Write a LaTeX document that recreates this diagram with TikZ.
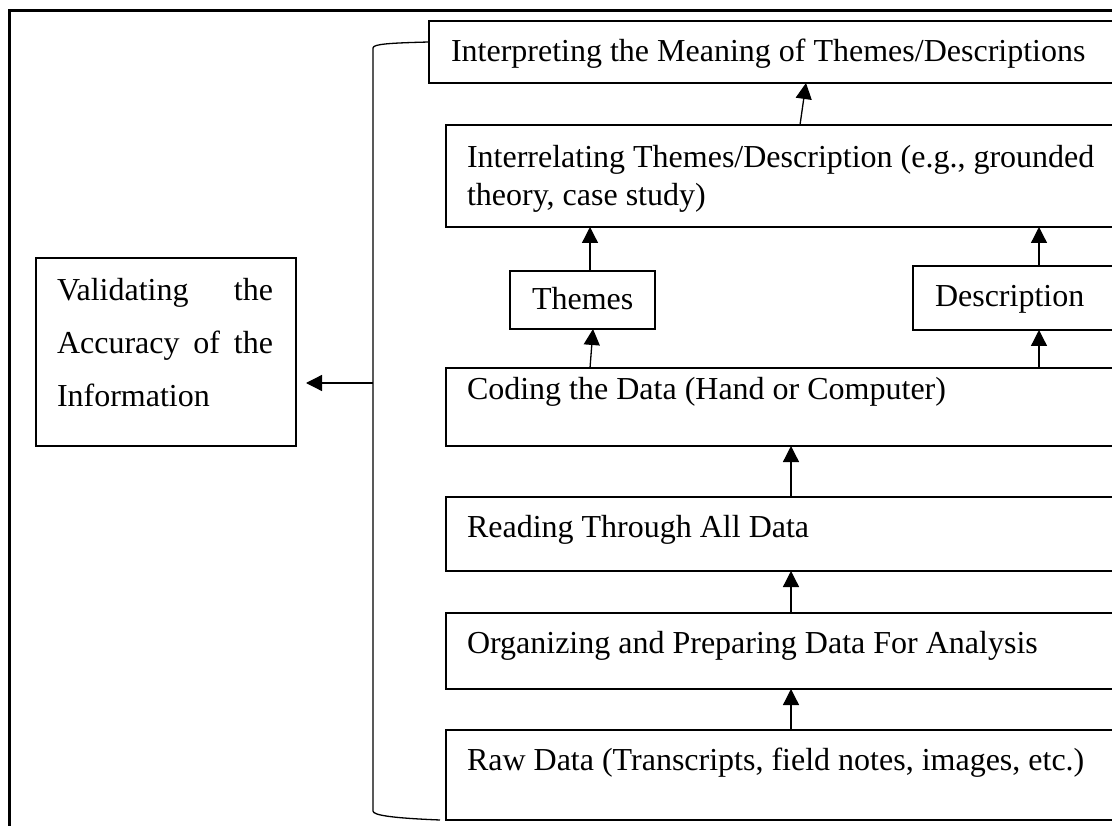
\documentclass[tikz,border=0pt]{standalone}
\usepackage{fontspec}
\setmainfont{Liberation Serif}
\usetikzlibrary{arrows.meta,calc}
\begin{document}
\begin{tikzpicture}[x=1pt,y=-1pt,
  font=\fontsize{32}{38}\selectfont,
  box/.style={draw,line width=2pt,anchor=north west,inner sep=0pt,outer sep=0pt},
  txt/.style={inner sep=0pt,outer sep=0pt},
  arr/.style={line width=1.3pt,-{Triangle[length=16pt,width=16pt]}},
  frame/.style={line width=3pt}]
\clip (0,0) rectangle (1112,826);
\fill[white] (0,0) rectangle (1112,826);
% outer frame
\draw[frame] (9,840) -- (9,11) -- (1130,11);
% boxes
\node[box,minimum width=700pt,minimum height=62pt] (interp) at (429,21) {};
\node[box,minimum width=700pt,minimum height=102pt] (inter) at (446,125) {};
\node[box,minimum width=145pt,minimum height=58pt] (themes) at (510,271) {};
\node[box,minimum width=220pt,minimum height=64pt] (desc) at (913,266) {};
\node[box,minimum width=700pt,minimum height=78pt] (coding) at (446,368) {};
\node[box,minimum width=700pt,minimum height=74pt] (reading) at (446,497) {};
\node[box,minimum width=700pt,minimum height=76pt] (org) at (446,613) {};
\node[box,minimum width=700pt,minimum height=90pt] (raw) at (446,730) {};
\node[box,minimum width=260pt,minimum height=188pt] (valid) at (36,258) {};
% texts
\node[txt,anchor=base west] (tinterp) at (451,62) {Interpreting the Meaning of Themes/Descriptions};
\node[txt,anchor=north west,align=left] (tinter) at (467,145) {Interrelating Themes/Description (e.g., grounded\\theory, case study)};
\node[txt,anchor=base west] (tthemes) at (532,310) {Themes};
\node[txt,anchor=base west] (tdesc) at (935,307) {Description};
\node[txt,anchor=base west] (tcoding) at (467,400) {Coding the Data (Hand or Computer)};
\node[txt,anchor=base west] (treading) at (467,537) {Reading Through All Data};
\node[txt,anchor=base west] (torg) at (467,653) {Organizing and Preparing Data For Analysis};
\node[txt,anchor=base west] (traw) at (467,770) {Raw Data (Transcripts, field notes, images, etc.)};
\node[txt,anchor=north west,text width=216pt,align=left,font=\fontsize{32}{53}\selectfont] (tvalid) at (57,278)
  {Validating\hfill the\\Accuracy\hfill of\hfill the\\Information};
% bracket
\coordinate (bt) at (interp.west |- 0,42);
\coordinate (bb) at (440,820);
\coordinate (bm) at (373,383);
\draw[line width=1.3pt] (bt) .. controls (390,43) and (373,44) .. (373,48) -- (373,811)
  .. controls (373,815) and (390,818) .. (bb);
\coordinate (vt) at (306,383);
\draw[arr] (bm) -- (vt);
% arrows
\draw[arr] (inter.north -| 800,0) -- (interp.south -| 806,0);
\draw[arr] (themes.north -| 590,0) -- (inter.south -| 590,0);
\draw[arr] (desc.north -| 1039,0) -- (inter.south -| 1039,0);
\draw[arr] (coding.north -| 590,0) -- (themes.south -| 593,0);
\draw[arr] (coding.north -| 1039,0) -- (desc.south -| 1039,0);
\draw[arr] (reading.north -| 791,0) -- (coding.south -| 791,0);
\draw[arr] (org.north -| 791,0) -- (reading.south -| 791,0);
\draw[arr] (raw.north -| 791,0) -- (org.south -| 791,0);
\end{tikzpicture}
\end{document}
